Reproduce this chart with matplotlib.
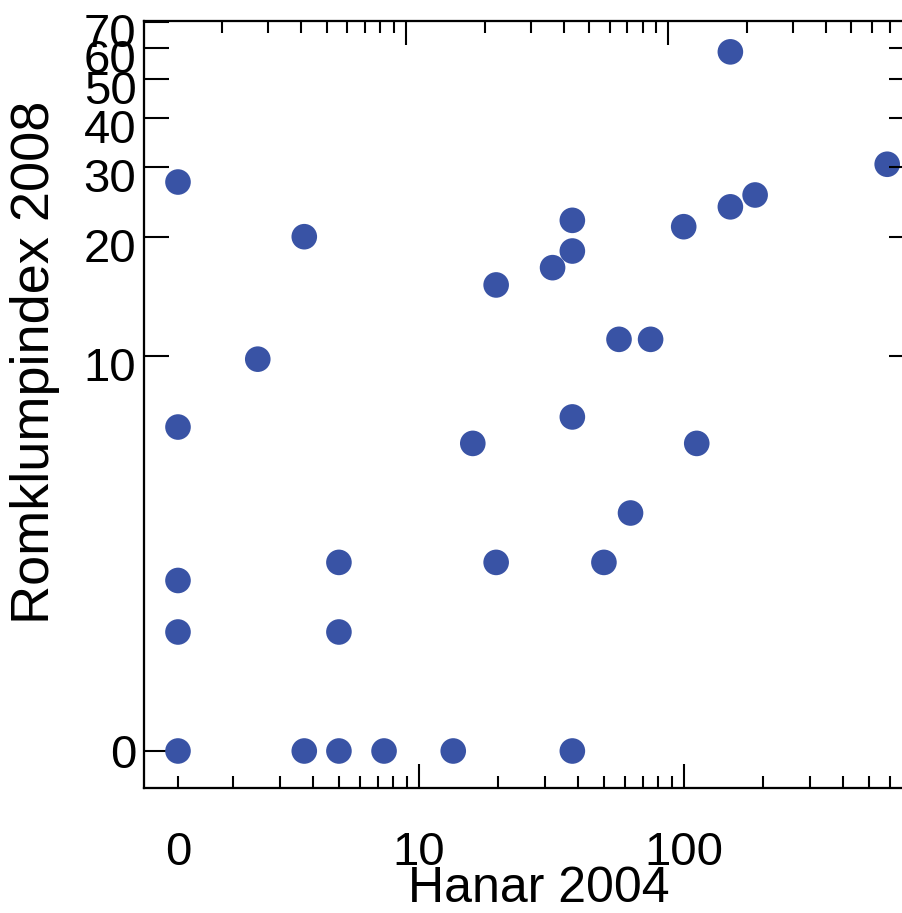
import numpy as np
import matplotlib
matplotlib.use('Agg')
import matplotlib.pyplot as plt
import matplotlib.transforms as mtransforms

plt.rcParams['font.family'] = ['Liberation Sans', 'DejaVu Sans']

# ---- data ----
hanar_2004 = [0, 0, 0, 0, 0, 2.47, 3.7, 3.7, 5, 5, 5, 7.4, 13.5, 16, 19.6, 19.6,
              32, 38, 38, 38, 38, 50, 57, 63, 75, 100, 112, 150, 150, 186, 586]
romklump_2008 = [0, 27.5, 6.6, 2.7, 2, 9.8, 20, 0, 3, 2, 0, 0, 0, 6, 15.1, 3,
                 16.7, 22, 18.4, 7, 0, 3, 11, 4, 11, 21.2, 6, 23.8, 58.7, 25.5, 30.5]
x_major_values = [0, 10, 100]
x_major_labels = ['0', '10', '100']
x_minor_values = [2, 3, 4, 5, 6, 7, 8, 9, 20, 30, 40, 50, 60, 70, 80, 90,
                  200, 300, 400, 500, 600]
y_tick_values = [0, 10, 20, 30, 40, 50, 60, 70]
y_tick_labels = ['0', '10', '20', '30', '40', '50', '60', '70']
y_right_values = [10, 20, 30, 40, 50, 60]

x = np.array(hanar_2004, dtype=float)
y = np.array(romklump_2008, dtype=float)
# zeros are shown at half of the smallest positive value on the log axes
x_zero = x[x > 0].min() / 2
y_zero = y[y > 0].min() / 2
xp = np.where(x == 0, x_zero, x)
yp = np.where(y == 0, y_zero, y)

W, H = 903, 913
fig = plt.figure(figsize=(W / 100, H / 100), dpi=100)
L, R, T, B = 144, 905, 20.7, 788
ax = fig.add_axes([L / W, (H - B) / H, (R - L) / W, (B - T) / H])

ax.set_xscale('log')
ax.set_yscale('log')
xdec, x10 = 265.0, 418.7
ydec, y10 = 395.3, 355.7
xlim = (10 ** (1 + (L - x10) / xdec), 10 ** (1 + (R - x10) / xdec))
ylim = (10 ** (1 - (B - y10) / ydec), 10 ** (1 + (y10 - T) / ydec))
ax.set_xlim(*xlim)
ax.set_ylim(*ylim)

ax.scatter(xp, yp, s=340, color='#3953a5', edgecolors='none', zorder=3, clip_on=False)

lw = 1.5
for sp in ax.spines.values():
    sp.set_linewidth(lw)

# bottom axis
xt = [x_zero if v == 0 else v for v in x_major_values]
ax.set_xticks(xt, x_major_labels)
ax.set_xticks(x_minor_values, minor=True)
ax.xaxis.set_minor_formatter(matplotlib.ticker.NullFormatter())
ax.tick_params(axis='x', which='major', direction='in', length=17.3, width=lw,
               labelsize=34, pad=31, top=False, bottom=True)
ax.tick_params(axis='x', which='minor', direction='in', length=8.6, width=lw,
               top=False, bottom=True)

# left axis
yt = [y_zero if v == 0 else v for v in y_tick_values]
ax.set_yticks(yt, y_tick_labels)
ax.yaxis.set_minor_locator(matplotlib.ticker.NullLocator())
ax.tick_params(axis='y', which='major', direction='in', length=18, width=lw,
               labelsize=34, pad=5.5, left=True, right=False)

fig.canvas.draw()
ax.xaxis.get_major_ticks()[0].tick1line.set_markersize(8.6)
for i, lab in enumerate(ax.get_yticklabels()):
    if i > 0:
        lab.set_transform(lab.get_transform() +
                          mtransforms.ScaledTranslation(0, -8 / 100, fig.dpi_scale_trans))

# top axis (ticks only)
shift = 10.5 / xdec
axt = ax.twiny()
axt.set_xscale('log')
axt.set_xlim(xlim[0] * 10 ** shift, xlim[1] * 10 ** shift)
axt.set_xticks([10, 100])
axt.set_xticks(x_minor_values + [700, 800], minor=True)
axt.xaxis.set_major_formatter(matplotlib.ticker.NullFormatter())
axt.xaxis.set_minor_formatter(matplotlib.ticker.NullFormatter())
axt.tick_params(axis='x', which='major', direction='in', length=17, width=lw,
                top=True, bottom=False, labeltop=False)
axt.tick_params(axis='x', which='minor', direction='in', length=8.6, width=lw,
                top=True, bottom=False, labeltop=False)
for sp in axt.spines.values():
    sp.set_linewidth(lw)

# right axis (ticks only)
axr = ax.twinx()
axr.set_yscale('log')
axr.set_ylim(*ylim)
axr.set_yticks(y_right_values)
axr.yaxis.set_minor_locator(matplotlib.ticker.NullLocator())
axr.yaxis.set_major_formatter(matplotlib.ticker.NullFormatter())
axr.tick_params(axis='y', which='major', direction='in', length=11.5, width=lw,
                right=True, left=False, labelright=False)
for sp in axr.spines.values():
    sp.set_linewidth(lw)

ax.set_xlabel('Hanar 2004', fontsize=36, va='baseline')
ax.xaxis.set_label_coords((539 - L) / (R - L), (B - 902) / (B - T))
ax.set_ylabel('Romklumpindex 2008', fontsize=39, va='center', ha='center')
ax.yaxis.set_label_coords((35 - L) / (R - L), (B - 362) / (B - T))

fig.savefig('out.png', dpi=100)
